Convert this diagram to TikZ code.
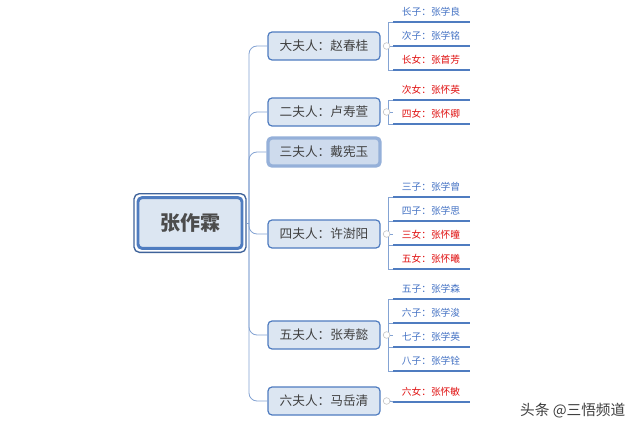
\documentclass[tikz,border=0pt]{standalone}
\usepackage{fontspec}
\setmainfont{Noto Sans CJK SC}
\begin{document}
\begin{tikzpicture}[x=0.75pt,y=-0.75pt,
  wife/.style={draw=bord,fill=boxf,rounded corners=3pt,line width=0.9pt,minimum width=84pt,minimum height=21pt,font=\fontsize{9.5}{11}\selectfont,text=black!75},
  kid/.style={font=\fontsize{7.3}{8}\selectfont,anchor=south},
  ln/.style={draw=bord!70,line width=0.6pt},
  ul/.style={draw=bord,line width=1.6pt},
  bl/.style={text=kidb},rd/.style={text=kidr}]
\definecolor{bord}{HTML}{4F7CC0}
\definecolor{boxf}{HTML}{DCE6F2}
\definecolor{kidb}{HTML}{4472C4}
\definecolor{kidr}{HTML}{E01010}
\useasboundingbox (0,0) rectangle (640,432);
\fill[white] (0,0) rectangle (640,432);
\node[draw=bord!80!black,line width=1pt,rounded corners=4pt,minimum width=84pt,minimum height=44pt] (rootb) at (190,223) {};
\node[draw=bord,fill=boxf,line width=2.2pt,rounded corners=3pt,minimum width=78pt,minimum height=38pt,font=\bfseries\fontsize{15}{17}\selectfont,text=black!70] (root) at (190,223) {张作霖};
\foreach \n/\t/\y in {w1/大夫人：赵春桂/46,w2/二夫人：卢寿萱/112,w4/四夫人：许澍阳/234,w5/五夫人：张寿懿/335,w6/六夫人：马岳清/401}
  \node[wife] (\n) at (324,\y) {\t};
\node[wife,draw=bord!60,line width=2.5pt,fill=boxf!90!bord] (w3) at (324,152) {三夫人：戴宪玉};
\coordinate (tr) at (249,223);
\draw[ln] (rootb.east) -- (tr);
\foreach \n in {w1,w2,w3,w4,w5,w6}
  \draw[ln,rounded corners=6pt] (tr) |- (\n.west);
% children
\newcommand\kidrow[4]{% name, y-line, text, style
  \coordinate (#1a) at (393,#2); \coordinate (#1b) at (470,#2);
  \draw[ul] (#1a) -- (#1b);
  \node[kid,#4] (#1t) at (431,#2-1) {#3};}
\kidrow{k1}{22}{长子：张学良}{bl}
\kidrow{k2}{46}{次子：张学铭}{bl}
\kidrow{k3}{70}{长女：张首芳}{rd}
\kidrow{k4}{100}{次女：张怀英}{rd}
\kidrow{k5}{124}{四女：张怀卿}{rd}
\kidrow{k6}{197}{三子：张学曾}{bl}
\kidrow{k7}{221}{四子：张学思}{bl}
\kidrow{k8}{245}{三女：张怀曈}{rd}
\kidrow{k9}{269}{五女：张怀曦}{rd}
\kidrow{k10}{299}{五子：张学森}{bl}
\kidrow{k11}{323}{六子：张学浚}{bl}
\kidrow{k12}{347}{七子：张学英}{bl}
\kidrow{k13}{371}{八子：张学铨}{bl}
\kidrow{k14}{402}{六女：张怀敏}{rd}
% brackets
\foreach \f/\l in {k1/k3,k4/k5,k6/k9,k10/k13}
  \draw[ln] (\f a) -- ++(-5,0) |- (\l a);
\foreach \k in {k2,k7,k8,k11,k12} \draw[ln] (\k a) -- ++(-5,0);
\foreach \w in {w1,w2,w4,w5,w6}{
  \node[circle,draw=gray!50,fill=white,inner sep=0pt,minimum size=5pt] (\w c) at ([xshift=4.5]\w.east) {};
  \draw[ln] (\w c.east) -- ++(3,0);
}
\draw[ln] (w6c.east) -- (k14a);
\node[font=\fontsize{11}{13}\selectfont,text=black!75,anchor=east] (wm) at (630,411) {头条 @三悟频道};
\end{tikzpicture}
\end{document}
